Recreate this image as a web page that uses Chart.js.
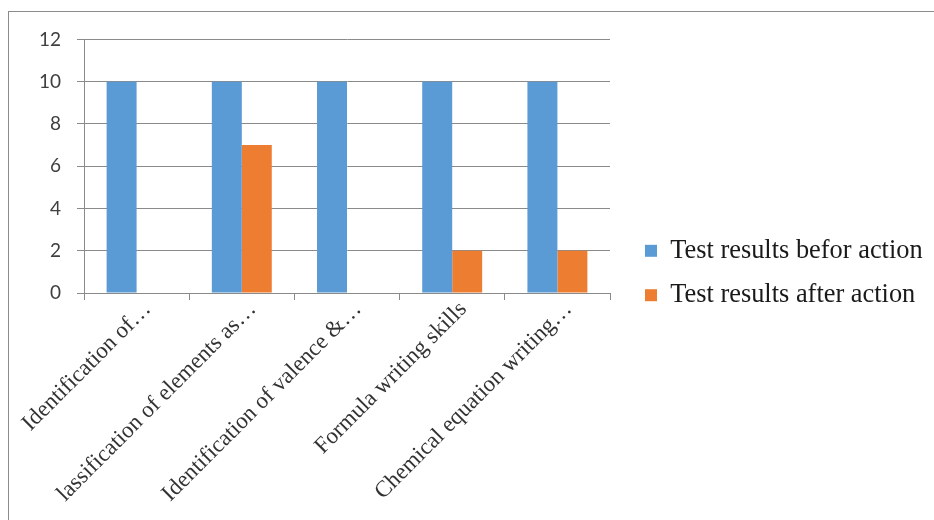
<!DOCTYPE html>
<html>
<head>
<meta charset="utf-8">
<script src="https://cdn.jsdelivr.net/npm/chart.js@4.4.1/dist/chart.umd.min.js"></script>
<style>
  html, body { margin: 0; padding: 0; background: #fff; overflow: hidden; width: 934px; height: 520px; }
  #wrap { position: absolute; left: 8px; top: 11px; width: 960px; height: 530px; border: 1px solid #8c8c8c; background: #fff; }
  canvas { display: block; }
</style>
</head>
<body>
<div id="wrap"><canvas id="c" width="960" height="530"></canvas></div>
<script>
const categories = [
  "Identification of…",
  "lassification of elements as…",
  "Identification of valence &…",
  "Formula writing skills",
  "Chemical equation writing…"
];
const beforeValues = [10, 10, 10, 10, 10];
const afterValues = [0, 7, 0, 2, 2];
const seriesNames = ["Test results befor action", "Test results after action"];
const yTicks = [0, 2, 4, 6, 8, 10, 12];

const gridColor = '#8a8a8a';
const LEGEND_W = 342;
const LEGEND_SHIFT = -17;

const legendPlacePlugin = {
  id: 'legendPlace',
  beforeLayout(chart) {
    const lg = chart.legend;
    if (lg && !lg._patchedFit) {
      const orig = lg.fit.bind(lg);
      lg.fit = function () { orig(); this.width = LEGEND_W; };
      lg._patchedFit = true;
    }
  },
  afterLayout(chart) {
    const lg = chart.legend;
    if (lg) { lg.top += LEGEND_SHIFT; lg.bottom += LEGEND_SHIFT; }
  }
};

new Chart(document.getElementById('c'), {
  type: 'bar',
  plugins: [legendPlacePlugin],
  data: {
    labels: categories,
    datasets: [
      { label: seriesNames[0], data: beforeValues, backgroundColor: '#5B9BD5', borderWidth: 0, barPercentage: 1, categoryPercentage: 0.57 },
      { label: seriesNames[1], data: afterValues, backgroundColor: '#ED7D31', borderWidth: 0, barPercentage: 1, categoryPercentage: 0.57 }
    ]
  },
  options: {
    responsive: false,
    animation: false,
    devicePixelRatio: 1,
    layout: { padding: { top: 26, bottom: 0, left: 0, right: 0 } },
    plugins: {
      tooltip: { enabled: false },
      legend: {
        position: 'right',
        align: 'center',
        labels: {
          font: { family: 'Liberation Serif', size: 26.4 },
          color: '#1a1a1a',
          boxWidth: 12,
          boxHeight: 12,
          padding: 18
        }
      }
    },
    scales: {
      x: {
        grid: { display: true, drawOnChartArea: false, drawTicks: true, tickLength: 7, offset: true, color: gridColor },
        border: { display: true, color: gridColor, width: 1 },
        ticks: {
          autoSkip: false, minRotation: 45, maxRotation: 45, padding: -4, labelOffset: 11,
          font: { family: 'Liberation Serif', size: 23 }, color: '#333333'
        },
        afterFit(s) { s.height = 249; s.paddingLeft = 0; s.paddingRight = 0; }
      },
      y: {
        min: 0, max: 12,
        afterBuildTicks(s) { s.ticks = yTicks.map(v => ({ value: v })); },
        grid: { color: gridColor, tickLength: 7, drawTicks: true },
        border: { display: true, color: gridColor, width: 1 },
        ticks: { padding: 16, font: { family: 'Lato', size: 19 }, color: '#404040' },
        afterFit(s) { s.width = 75; }
      },
      spacer: {
        type: 'linear', position: 'right', display: true,
        grid: { display: false }, border: { display: false }, ticks: { display: false },
        afterFit(s) { s.width = 17; }
      }
    }
  }
});
</script>
</body>
</html>
